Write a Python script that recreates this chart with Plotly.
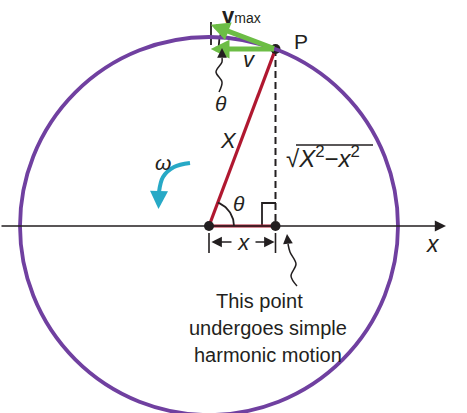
import numpy as np
import plotly.graph_objects as go

# ---- diagram values (amplitude units, X = 1) ----
amplitude = 1.0            # X : radius of reference circle
theta_deg = 69.4           # angle of point P from the x axis
vmax_length = 0.366        # length of the v_max arrow
text_lines = ["This point", "undergoes simple", "harmonic motion"]

theta = np.radians(theta_deg)
Px, Py = amplitude * np.cos(theta), amplitude * np.sin(theta)
xproj = Px
vmax_dx, vmax_dy = -vmax_length * np.sin(theta), vmax_length * np.cos(theta)
v_dx = vmax_dx

# ---- canvas mapping ----
W, H = 467, 413
scale = 189.0
cx_px, cy_px = 209, 226
xr = [-cx_px / scale, (W - cx_px) / scale]
yr = [-(H - cy_px) / scale, cy_px / scale]


def p(px, py):
    return ((px - cx_px) / scale, (cy_px - py) / scale)


PURPLE = "#7040a0"
RED = "#b01830"
GREEN = "#6cbd45"
CYAN = "#27a9c6"
BLACK = "#231f20"
FONT = "Liberation Sans, Arial, sans-serif"

fig = go.Figure()
shapes = []
annotations = []

# reference circle
shapes.append(dict(type="circle", xref="x", yref="y", x0=-amplitude, y0=-amplitude,
                   x1=amplitude, y1=amplitude, line=dict(color=PURPLE, width=3.8)))

# x axis with arrow
ax0 = p(0, 226)
ax1 = p(446, 226)
annotations.append(dict(x=ax1[0], y=0, ax=ax0[0], ay=0, xref="x", yref="y", axref="x", ayref="y",
                        text="", showarrow=True, arrowhead=2, arrowsize=1.6, arrowwidth=1.4,
                        arrowcolor=BLACK, standoff=0))

# dashed vertical line
fig.add_trace(go.Scatter(x=[Px, xproj], y=[Py, 0], mode="lines",
                         line=dict(color=BLACK, width=2, dash="7px,4px"), hoverinfo="skip"))

# right-angle marker
ra = [p(262, 226), p(262, 203), p(276, 203)]
fig.add_trace(go.Scatter(x=[q[0] for q in ra], y=[q[1] for q in ra], mode="lines",
                         line=dict(color=BLACK, width=1.8), hoverinfo="skip"))

# red radius and projection
fig.add_trace(go.Scatter(x=[0, Px], y=[0, Py], mode="lines",
                         line=dict(color=RED, width=3.2), hoverinfo="skip"))
fig.add_trace(go.Scatter(x=[0, xproj], y=[0, 0], mode="lines",
                         line=dict(color=RED, width=3.2), hoverinfo="skip"))

# angle arc at center
arc_r = 25 / scale
t = np.linspace(0, theta, 30)
fig.add_trace(go.Scatter(x=arc_r * np.cos(t), y=arc_r * np.sin(t), mode="lines",
                         line=dict(color=BLACK, width=1.8), hoverinfo="skip"))

# angle arc near the velocity arrows (centred on P)
arc2_r = 57 / scale
t2 = np.linspace(np.pi - (np.pi / 2 - theta), np.pi, 20)
fig.add_trace(go.Scatter(x=Px + arc2_r * np.cos(t2), y=Py + arc2_r * np.sin(t2), mode="lines",
                         line=dict(color=BLACK, width=1.8), hoverinfo="skip"))

# tick at arrow tips
tk = [p(211, 22), p(211, 45)]
fig.add_trace(go.Scatter(x=[q[0] for q in tk], y=[q[1] for q in tk], mode="lines",
                         line=dict(color=BLACK, width=1.8), hoverinfo="skip"))

# green velocity arrows
annotations.append(dict(x=Px + vmax_dx, y=Py + vmax_dy, ax=Px, ay=Py, xref="x", yref="y",
                        axref="x", ayref="y", text="", showarrow=True, arrowhead=2,
                        arrowsize=0.75, arrowwidth=5, arrowcolor=GREEN, standoff=0))
annotations.append(dict(x=Px + v_dx, y=Py, ax=Px, ay=Py, xref="x", yref="y",
                        axref="x", ayref="y", text="", showarrow=True, arrowhead=2,
                        arrowsize=0.75, arrowwidth=5, arrowcolor=GREEN, standoff=0))

# dimension x below axis
for xx in [0, xproj]:
    a, b = p(0, 233), p(0, 253)
    fig.add_trace(go.Scatter(x=[xx, xx], y=[a[1], b[1]], mode="lines",
                             line=dict(color=BLACK, width=1.6), hoverinfo="skip"))
dy_dim = p(0, 242)[1]
annotations.append(dict(x=xproj - 0.005, y=dy_dim, ax=0.005, ay=dy_dim, xref="x", yref="y",
                        axref="x", ayref="y", text="", showarrow=True, arrowhead=2,
                        arrowside="end+start", arrowsize=1.3, arrowwidth=1.6,
                        arrowcolor=BLACK, standoff=0, startstandoff=0, startarrowhead=2,
                        startarrowsize=1.3))

# wavy pointer from text to projection point
wv = [p(297, 286), p(291, 276), p(296, 264), p(290, 252), p(288, 244)]
fig.add_trace(go.Scatter(x=[q[0] for q in wv], y=[q[1] for q in wv], mode="lines",
                         line=dict(color=BLACK, width=1.5, shape="spline"), hoverinfo="skip"))
hd = p(287, 234)
annotations.append(dict(x=hd[0], y=hd[1], ax=wv[-1][0], ay=wv[-1][1], xref="x", yref="y",
                        axref="x", ayref="y", text="", showarrow=True, arrowhead=2,
                        arrowsize=1.3, arrowwidth=1.5, arrowcolor=BLACK, standoff=0))

# wavy pointer from theta label to arc
wv2 = [p(219, 92), p(222, 82), p(216, 72), p(222, 62), p(222, 58)]
fig.add_trace(go.Scatter(x=[q[0] for q in wv2], y=[q[1] for q in wv2], mode="lines",
                         line=dict(color=BLACK, width=1.5, shape="spline"), hoverinfo="skip"))
hd2 = p(222, 48)
annotations.append(dict(x=hd2[0], y=hd2[1], ax=wv2[-1][0], ay=wv2[-1][1], xref="x", yref="y",
                        axref="x", ayref="y", text="", showarrow=True, arrowhead=2,
                        arrowsize=1.3, arrowwidth=1.5, arrowcolor=BLACK, standoff=0))

# cyan omega arrow
cy = [p(190, 163), p(174, 167), p(163, 177), p(159, 192)]
fig.add_trace(go.Scatter(x=[q[0] for q in cy], y=[q[1] for q in cy], mode="lines",
                         line=dict(color=CYAN, width=4, shape="spline"), hoverinfo="skip"))
hd3 = p(158.5, 209)
annotations.append(dict(x=hd3[0], y=hd3[1], ax=cy[-1][0], ay=cy[-1][1], xref="x", yref="y",
                        axref="x", ayref="y", text="", showarrow=True, arrowhead=2,
                        arrowsize=0.9, arrowwidth=4, arrowcolor=CYAN, standoff=0))

# points
fig.add_trace(go.Scatter(x=[0, xproj, Px], y=[0, 0, Py], mode="markers",
                         marker=dict(color=BLACK, size=10), hoverinfo="skip"))

# sqrt overline
ol = [p(296, 145), p(373, 145)]
shapes.append(dict(type="line", xref="x", yref="y", x0=ol[0][0], y0=ol[0][1],
                   x1=ol[1][0], y1=ol[1][1], line=dict(color=BLACK, width=1.3)))


def label(px, py, text, size=20, bg=None, xanchor="center"):
    q = p(px, py)
    d = dict(x=q[0], y=q[1], xref="x", yref="y", text=text, showarrow=False,
             font=dict(family=FONT, size=size, color=BLACK), xanchor=xanchor, yanchor="middle")
    if bg:
        d["bgcolor"] = bg
        d["borderpad"] = 0
    annotations.append(d)


label(241, 15, "<b>v</b><span style='font-size:14px'>max</span>", 22)
label(301, 41, "P", 21)
label(249, 59, "<i>v</i>", 22)
label(221, 103, "<i>θ</i>", 21)
label(228, 140, "<i>X</i>", 22)
label(163, 162, "<i>ω</i>", 21)
label(239, 203, "<i>θ</i>", 21)
label(284, 157, "√<i>X</i><sup>2</sup>−<i>x</i><sup>2</sup>", 24, xanchor="left")
label(243, 242, " <i>x</i> ", 22, bg="white")
label(433, 244, "<i>x</i>", 23)
label(259, 301, text_lines[0], 20)
label(268, 328, text_lines[1], 20)
label(268, 355, text_lines[2], 20)

fig.update_layout(
    width=W, height=H, margin=dict(l=0, r=0, t=0, b=0),
    paper_bgcolor="white", plot_bgcolor="white", showlegend=False,
    xaxis=dict(range=xr, visible=False, fixedrange=True),
    yaxis=dict(range=yr, visible=False, fixedrange=True),
    shapes=shapes, annotations=annotations,
)
fig.write_html("out.html", config={"displayModeBar": False},
               post_script="document.body.style.margin='0';document.body.style.padding='0';")
